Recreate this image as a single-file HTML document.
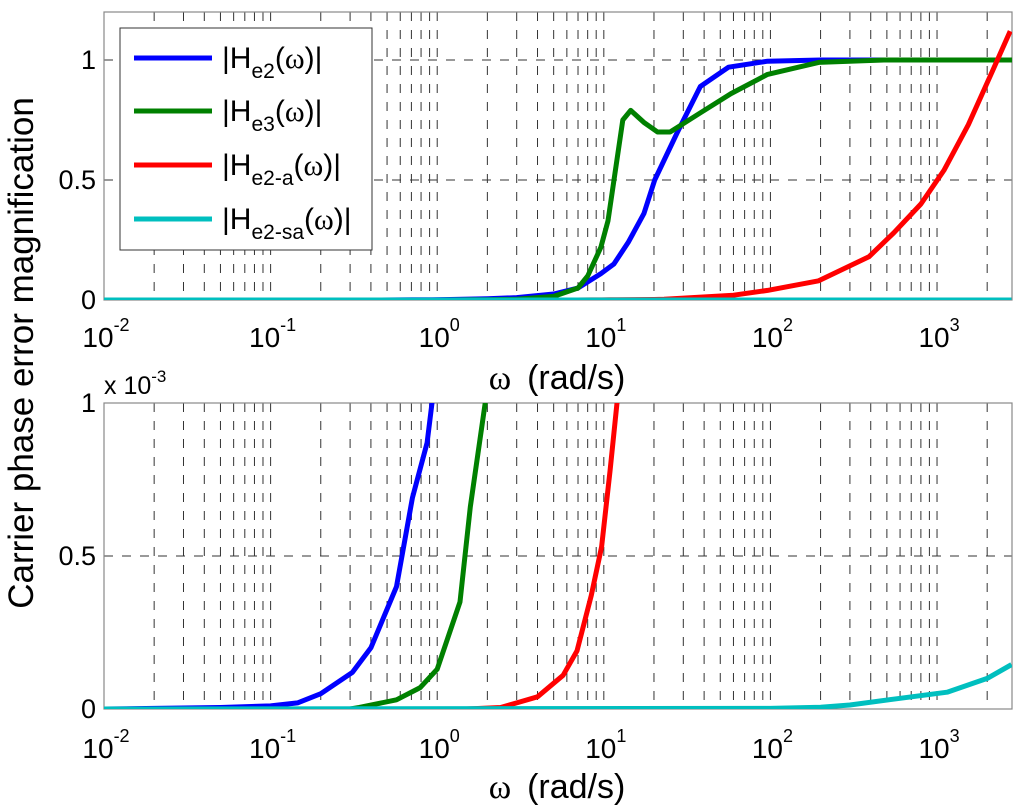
<!DOCTYPE html>
<html><head><meta charset="utf-8">
<style>
html,body{margin:0;padding:0;background:#fff;}
svg{display:block;font-family:"Liberation Sans",Arial,sans-serif;}
</style></head>
<body>
<svg id="chart" width="1024" height="810" viewBox="0 0 1024 810" xmlns="http://www.w3.org/2000/svg">
  <g id="top-panel"></g>
  <g id="bottom-panel"></g>
  <text transform="translate(33,353) rotate(-90)" text-anchor="middle" font-size="35" fill="#000">Carrier phase error magnification</text>
</svg>
<script>
// ---- data ----
const he2Omega = [0.01,0.05,0.1,0.145,0.2,0.31,0.4,0.57,0.71,0.87,0.93,1.2,2,3,5,7,9.6,11.5,14,17.4,20.2,27.7,38,56,96,200,3000];
const he2Vals  = [0,0.000005,0.00001,0.00002,0.00005,0.00012,0.0002,0.0004,0.00069,0.00087,0.001,0.002,0.005,0.01,0.025,0.05,0.11,0.15,0.24,0.36,0.5,0.7,0.89,0.97,0.995,1,1];
const he3Omega = [0.01,0.3,0.34,0.57,0.79,1.0,1.37,1.58,1.94,3,5,7,8,9.6,10.6,13,14.5,17.4,21,25,38,58,96,195,480,3000];
const he3Vals  = [0,0,0.000005,0.00003,0.00007,0.00013,0.00035,0.00066,0.001,0.003,0.015,0.05,0.1,0.22,0.33,0.75,0.79,0.74,0.70,0.70,0.78,0.86,0.94,0.99,1,1];
const he2aOmega = [0.01,1.5,2.4,3,4,5.7,6.9,8.4,9.7,10.9,12,20,23,60,96,195,390,550,800,1100,1540,2170,2750];
const he2aVals  = [0,0,0.000005,0.00002,0.00004,0.00011,0.00019,0.00037,0.00053,0.00078,0.001,0.002,0.003,0.02,0.04,0.08,0.18,0.28,0.40,0.54,0.73,0.96,1.12];
const he2saOmega = [0.01,100,200,300,600,1150,2000,2800];
const he2saVals  = [0,0.000002,0.000006,0.000013,0.000035,0.000055,0.0001,0.000145];
const xTickExps = [-2,-1,0,1,2,3];
const topYTicks = [0,0.5,1];
const topYLabels = ["0","0.5","1"];
const botYTicks = [0,0.0005,0.001];
const botYLabels = ["0","0.5","1"];
const seriesNames = ["he2","he3","he2-a","he2-sa"];
const seriesColors = ["#0000ff","#008000","#ff0000","#00bfbf"];

const NS="http://www.w3.org/2000/svg";
function mk(tag, attrs, parent){const e=document.createElementNS(NS,tag);for(const k in attrs)e.setAttribute(k,attrs[k]);if(parent)parent.appendChild(e);return e;}

const XL=104, XR=1012, LMIN=-2, LMAX=3.45;
function xs(w){return XL+(Math.log10(w)-LMIN)/(LMAX-LMIN)*(XR-XL);}

function panel(g, id, yTop, yBot, yMax, yTicks, yLabels, tickLabelY, xlabelY){
  const ys=v=>yBot-(v/yMax)*(yBot-yTop);
  const clip=mk('clipPath',{id:'clip-'+id},g);
  mk('rect',{x:XL,y:yTop,width:XR-XL,height:yBot-yTop},clip);
  const grid=mk('g',{},g);
  
  
  for(let e=-2;e<=3;e++){
    for(let m=1;m<=9;m++){
      const w=m*Math.pow(10,e);
      if(Math.log10(w)>LMAX+1e-9)continue;
      if(e===-2&&m===1)continue;
      const x=xs(w);
      const ln=mk('line',{x1:x,y1:yTop,x2:x,y2:yBot,stroke:'#333','stroke-width':1,'stroke-dasharray':'9 9'},grid);
      
      
    }
  }
  yTicks.forEach(v=>{
    if(v===0)return;
    const y=ys(v);
    const ln=mk('line',{x1:XL,y1:y,x2:XR,y2:y,stroke:'#333','stroke-width':1,'stroke-dasharray':'9 9'},grid);
    
    
  });
  const fr=mk('rect',{x:XL,y:yTop,width:XR-XL,height:yBot-yTop,fill:'none',stroke:'#888','stroke-width':1.2},g);
  
  
  const all=[[he2Omega,he2Vals],[he3Omega,he3Vals],[he2aOmega,he2aVals],[he2saOmega,he2saVals]];
  const sg=mk('g',{'clip-path':'url(#clip-'+id+')'},g);
  all.forEach((s,i)=>{
    const pts=s[0].map((w,j)=>xs(w).toFixed(1)+','+ys(s[1][j]).toFixed(1)).join(' ');
    const pl=mk('polyline',{points:pts,fill:'none',stroke:seriesColors[i],'stroke-width':5,'stroke-linejoin':'round'},sg);
    
    
  });
  xTickExps.forEach(e=>{
    const x=xs(Math.pow(10,e));
    const t=mk('text',{x:x+2,y:tickLabelY,'text-anchor':'middle','font-size':28,fill:'#000'},g);
    
    
    t.textContent='10';
    const s=mk('tspan',{dy:-16,'font-size':18},t);
    s.textContent=String(e);
  });
  yTicks.forEach((v,i)=>{
    const t=mk('text',{x:XL-8,y:ys(v)+9,'text-anchor':'end','font-size':27,fill:'#000'},g);
    
    
    t.textContent=yLabels[i];
  });
  const xl=mk('text',{x:557,y:xlabelY,'text-anchor':'middle','font-size':34,fill:'#000'},g);
  
  
  const om=mk('tspan',{'font-family':'"Liberation Serif",serif'},xl); om.textContent='ω';
  const rs=mk('tspan',{dx:16},xl); rs.textContent='(rad/s)';
  return ys;
}

const topG=document.getElementById('top-panel');
const botG=document.getElementById('bottom-panel');
panel(topG,'top',12,300,1.2,topYTicks,topYLabels,347,389);
panel(botG,'bot',403,709,0.001,botYTicks,botYLabels,758,798);

const ex=mk('text',{x:104,y:394,'font-size':25,fill:'#000'},botG);


ex.textContent='x 10';
const exs=mk('tspan',{dy:-12,'font-size':17},ex); exs.textContent='-3';

const lg=mk('g',{},topG);


mk('rect',{x:120,y:28,width:252,height:222,fill:'#fff',stroke:'#333','stroke-width':1},lg);
const subs=["e2","e3","e2-a","e2-sa"];
const ly=[58,111,165,219];
subs.forEach((s,i)=>{
  const en=mk('g',{},lg);
  
  
  mk('line',{x1:134,y1:ly[i],x2:212,y2:ly[i],stroke:seriesColors[i],'stroke-width':5},en);
  const t=mk('text',{x:222,y:ly[i]+10,'font-size':30,fill:'#000'},en);
  const a=mk('tspan',{},t); a.textContent='|H';
  const b=mk('tspan',{dy:10,'font-size':21},t); b.textContent=s;
  const c=mk('tspan',{dy:-10,'font-size':30},t); c.textContent='(';
  const d=mk('tspan',{'font-family':'"Liberation Serif",serif'},t); d.textContent='ω';
  const f=mk('tspan',{},t); f.textContent=')|';
});
</script>
</body></html>
